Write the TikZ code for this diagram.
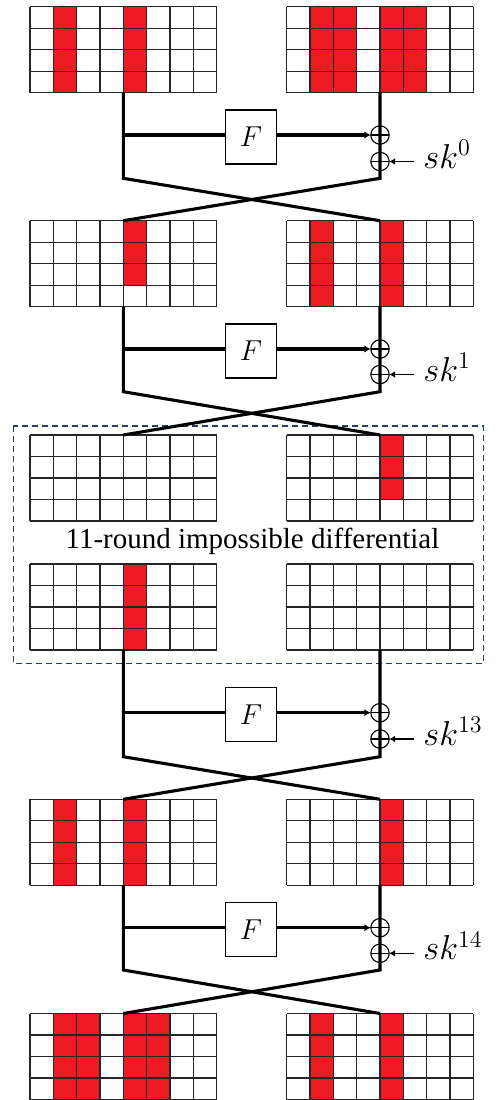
\documentclass[tikz,border=0pt]{standalone}
\usepackage{fontspec}
\setmainfont{Liberation Serif}
\usetikzlibrary{arrows.meta}
\definecolor{cellred}{RGB}{237,28,36}
\definecolor{boxblue}{RGB}{40,62,95}
\tikzset{
  gridline/.style={line width=0.6pt, draw=black!85},
  gridnode/.style={minimum width=93.333pt, minimum height=43pt, inner sep=0pt, outer sep=0pt},
  wire/.style={line width=1.55pt, line join=miter},
  fbox/.style={draw, line width=0.6pt, minimum width=25.8pt, minimum height=27pt, inner sep=0pt, outer sep=0pt, font=\fontsize{15}{15}\selectfont, fill=white},
  xor/.style={circle, draw, line width=0.55pt, minimum size=9.2pt, inner sep=0pt, outer sep=0pt,
    path picture={\draw[line width=0.55pt] (path picture bounding box.west) -- (path picture bounding box.east);}},
  farrow/.style={line width=1.55pt, -{Latex[length=3.2pt,width=3.6pt]}},
  skarrow/.style={line width=0.55pt, -{Latex[length=3pt,width=3.4pt]}},
  sklabel/.style={anchor=base west, inner sep=0pt, font=\fontsize{16.5}{17}\selectfont},
}
\newcommand\cellgrid[3]{%
  \node[gridnode] (#1) at ({#2+93.333},{#3+43}) {};
  \foreach \i in {0,...,8} \draw[gridline] ({#2+\i*23.333},#3) -- ({#2+\i*23.333},{#3+86});
  \foreach \j in {0,...,4} \draw[gridline] ({#2},{#3+\j*21.5}) -- ({#2+186.667},{#3+\j*21.5});
}
\newcommand\redcol[4]{%
  \fill[cellred] ({#1+#3*23.333},#2) rectangle ({#1+(#3+1)*23.333},{#2+#4*21.5});
}
\begin{document}
\begin{tikzpicture}[x=0.5pt,y=-0.5pt]
\useasboundingbox (0,0) rectangle (496,1100);
% red cells
\redcol{30}{6.7}{1}{4}\redcol{30}{6.7}{4}{4}
\redcol{286.7}{6.7}{1}{4}\redcol{286.7}{6.7}{2}{4}\redcol{286.7}{6.7}{4}{4}\redcol{286.7}{6.7}{5}{4}
\redcol{30}{220.7}{4}{3}
\redcol{286.7}{220.7}{1}{4}\redcol{286.7}{220.7}{4}{4}
\redcol{286.7}{435}{4}{3}
\redcol{30}{564}{4}{4}
\redcol{30}{799.3}{1}{4}\redcol{30}{799.3}{4}{4}
\redcol{286.7}{799.3}{4}{4}
\redcol{30}{1013.5}{1}{4}\redcol{30}{1013.5}{2}{4}\redcol{30}{1013.5}{4}{4}\redcol{30}{1013.5}{5}{4}
\redcol{286.7}{1013.5}{1}{4}\redcol{286.7}{1013.5}{4}{4}
% grids
\cellgrid{gL1}{30}{6.7}\cellgrid{gR1}{286.7}{6.7}
\cellgrid{gL2}{30}{220.7}\cellgrid{gR2}{286.7}{220.7}
\cellgrid{gL3}{30}{435}\cellgrid{gR3}{286.7}{435}
\cellgrid{gL4}{30}{564}\cellgrid{gR4}{286.7}{564}
\cellgrid{gL5}{30}{799.3}\cellgrid{gR5}{286.7}{799.3}
\cellgrid{gL6}{30}{1013.5}\cellgrid{gR6}{286.7}{1013.5}
% dashed box and its label
\draw[boxblue, line width=0.65pt, dash pattern=on 3pt off 2pt] (13.3,426) rectangle (483.3,663.3);
\node[font=\fontsize{14.5}{15}\selectfont, inner sep=0pt] (lab) at (252.5,541) {11-round impossible differential};
% rounds: #1 index, #2 top grids row, #3 next grids row, #4 F-line y, #5 xor2 y, #6 bottom y, #7 key
\newcommand\fround[7]{%
  \coordinate (cL#1) at (123.3,#6);
  \coordinate (cR#1) at (380,#6);
  \coordinate (fa#1) at (123.3,#4);
  \node[fbox] (F#1) at (251,{#4+2}) {$F$};
  \draw[wire] (gL#2.south) -- (cL#1) -- (gR#3.north);
  \draw[wire] (gR#2.south) -- (cR#1) -- (gL#3.north);
  \node[xor] (xa#1) at (380,#4) {};
  \node[xor] (xb#1) at (380,#5) {};
  \draw[wire] (fa#1) -- (fa#1 -| F#1.west);
  \draw[farrow] (F#1.east |- xa#1) -- (xa#1.west);
  \node[sklabel] (sk#1) at (423,{#5+6.5}) {$sk^{#7}$};
  \coordinate (st#1) at (414,#5);
  \draw[skarrow] (st#1) -- (xb#1.east);
}
\fround{1}{1}{2}{135}{161.5}{178.3}{0}
\fround{2}{2}{3}{349}{374.5}{391.7}{1}
\fround{3}{4}{5}{712.7}{739}{756.7}{13}
\fround{4}{5}{6}{927.7}{953.3}{970}{14}
\end{tikzpicture}
\end{document}
